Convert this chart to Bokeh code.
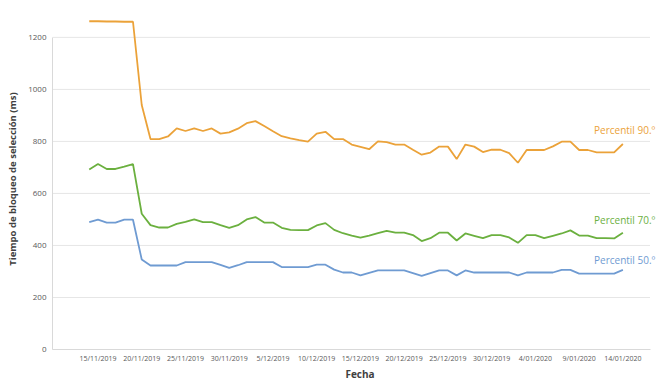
import pandas as pd
from bokeh.plotting import figure
from bokeh.models import FixedTicker, Label, Range1d
from bokeh.embed import file_html
from bokeh.resources import INLINE

# Daily dates 14/11/2019 .. 14/01/2020
dates = pd.date_range("2019-11-14", "2020-01-14", freq="D")

p90 = [1262, 1262, 1261, 1261, 1260, 1260, 940, 809, 809, 819,
       850, 840, 850, 840, 850, 830, 835, 849, 870, 878,
       859, 839, 820, 812, 805, 799, 830, 837, 809, 809,
       788, 779, 770, 800, 797, 788, 788, 768, 749, 757,
       780, 780, 732, 788, 780, 759, 768, 768, 755, 718,
       767, 767, 767, 781, 799, 799, 767, 767, 758, 758,
       758, 790]
p70 = [692, 713, 694, 694, 703, 713, 522, 478, 469, 469,
       483, 491, 500, 490, 490, 478, 468, 478, 500, 509,
       488, 488, 468, 460, 459, 459, 477, 486, 460, 447,
       438, 430, 438, 447, 456, 449, 449, 440, 417, 428,
       449, 449, 419, 446, 437, 428, 440, 440, 431, 410,
       440, 440, 428, 437, 446, 458, 438, 438, 428, 428,
       427, 449]
p50 = [490, 499, 488, 488, 499, 499, 346, 323, 323, 323,
       323, 336, 336, 336, 336, 325, 314, 324, 336, 336,
       336, 336, 317, 317, 317, 317, 326, 326, 307, 296,
       296, 285, 295, 304, 304, 304, 304, 294, 283, 294,
       304, 304, 285, 304, 296, 296, 296, 296, 296, 285,
       296, 296, 296, 296, 306, 306, 292, 292, 292, 292,
       292, 306]

tick_labels = ["15/11/2019", "20/11/2019", "25/11/2019", "30/11/2019",
               "5/12/2019", "10/12/2019", "15/12/2019", "20/12/2019",
               "25/12/2019", "30/12/2019", "4/01/2020", "9/01/2020",
               "14/01/2020"]
y_ticks = [0, 200, 400, 600, 800, 1000, 1200]

series_names = ["Percentil 90.º", "Percentil 70.º", "Percentil 50.º"]
colors = ["#EBA239", "#6BB03F", "#6F9BD2"]

start = dates[0]
xs = [(d - start).days for d in dates]
tick_pos = [(pd.to_datetime(t, format="%d/%m/%Y") - start).days for t in tick_labels]

FONT = "Open Sans"
X_START, GRID_END, X_END = -4.2, 64.1, 66.1

p = figure(width=667, height=386, output_backend="svg", toolbar_location=None,
           x_range=Range1d(X_START, X_END), y_range=Range1d(0, 1311),
           min_border_left=52, min_border_right=0, min_border_top=8,
           min_border_bottom=37)
p.outline_line_color = None
p.background_fill_color = "white"
p.border_fill_color = "white"

# horizontal gridlines (end before the label column, as in the original)
p.segment(x0=[X_START] * len(y_ticks), x1=[GRID_END] * len(y_ticks),
          y0=y_ticks, y1=y_ticks, line_color="#e6e6e6", line_width=1)

for vals, c in zip([p90, p70, p50], colors):
    p.line(xs, vals, line_color=c, line_width=1.8)

label_y = [842, 496, 346]
for name, c, ly in zip(series_names, colors, label_y):
    p.add_layout(Label(x=57.7, y=ly, text=name, text_color=c,
                       text_font=FONT, text_font_size="10px",
                       text_baseline="middle", text_align="left"))

p.xaxis.ticker = FixedTicker(ticks=tick_pos)
p.xaxis.major_label_overrides = {tp: t for tp, t in zip(tick_pos, tick_labels)}
p.xaxis.bounds = (X_START, GRID_END)
p.yaxis.ticker = FixedTicker(ticks=y_ticks)
p.yaxis.bounds = (0, 1200)

for ax in (p.xaxis, p.yaxis):
    ax.major_tick_line_color = None
    ax.minor_tick_line_color = None
    ax.major_tick_out = 0
    ax.major_tick_in = 0
    ax.minor_tick_out = 0
    ax.minor_tick_in = 0
    ax.axis_line_color = "#d9d9d9"
    ax.major_label_text_font = FONT
    ax.major_label_text_color = "#595959"
    ax.axis_label_text_font = FONT
    ax.axis_label_text_font_style = "bold"
    ax.axis_label_text_color = "#404040"

p.xaxis.major_label_text_font_size = "7px"
p.yaxis.major_label_text_font_size = "8px"
p.xaxis.axis_label = "Fecha"
p.xaxis.axis_label_text_font_size = "10px"
p.xaxis.major_label_standoff = 4
p.xaxis.axis_label_standoff = 1
p.yaxis.axis_label = "Tiempo de bloqueo de selección (ms)"
p.yaxis.axis_label_text_font_size = "9.5px"
p.yaxis.major_label_standoff = 6
p.yaxis.axis_label_standoff = 6

p.xgrid.grid_line_color = None
p.ygrid.grid_line_color = None

open("out.html", "w").write(file_html(p, INLINE))
